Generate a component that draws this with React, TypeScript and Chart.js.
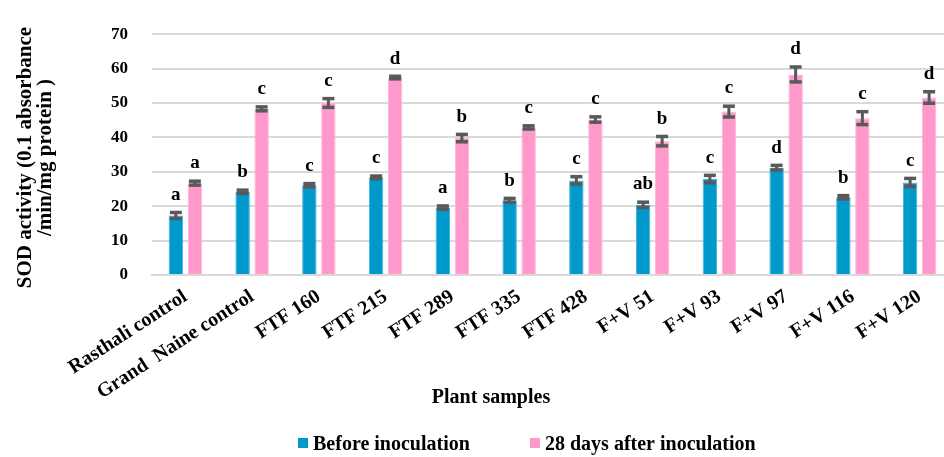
import React, { useEffect, useRef } from "react";
import { Chart, registerables } from "chart.js";

Chart.register(...registerables);

const categories = [
  "Rasthali control",
  "Grand  Naine control",
  "FTF 160",
  "FTF 215",
  "FTF 289",
  "FTF 335",
  "FTF 428",
  "F+V 51",
  "F+V 93",
  "F+V 97",
  "F+V 116",
  "F+V 120",
];

const seriesNames = ["Before inoculation", "28 days after inoculation"];

const beforeValues = [17.3, 24.2, 26.1, 28.4, 19.6, 21.7, 27.5, 20.4, 27.9, 31.2, 22.6, 26.9];
const beforeErrors = [0.8, 0.4, 0.4, 0.3, 0.4, 0.5, 1.0, 0.7, 1.0, 0.6, 0.4, 1.1];
const beforeLetters = ["a", "b", "c", "c", "a", "b", "c", "ab", "c", "d", "b", "c"];

const afterValues = [26.7, 48.3, 50.0, 57.4, 39.8, 42.9, 45.2, 38.9, 47.5, 58.3, 45.6, 51.6];
const afterErrors = [0.5, 0.5, 1.2, 0.3, 1.0, 0.4, 0.7, 1.3, 1.5, 2.1, 1.8, 1.6];
const afterLetters = ["a", "c", "c", "d", "b", "c", "c", "b", "c", "d", "c", "d"];

const yTicks = [0, 10, 20, 30, 40, 50, 60, 70];

const yTitleLines = ["SOD activity (0.1 absorbance", "/min/mg protein )"];
const xTitle = "Plant samples";

const BLUE = "#0099cc";
const PINK = "#ff99cc";
const FONT = "'Liberation Serif', 'Times New Roman', serif";

const errorBarPlugin = {
  id: "errorBars",
  afterDatasetsDraw(chart: any) {
    const ctx = chart.ctx;
    const yScale = chart.scales.y;
    const errs = [beforeErrors, afterErrors];
    const letters = [beforeLetters, afterLetters];
    chart.data.datasets.forEach((ds: any, di: number) => {
      const meta = chart.getDatasetMeta(di);
      meta.data.forEach((bar: any, i: number) => {
        const v = ds.data[i];
        const e = errs[di][i];
        const x = bar.x;
        const yTop = yScale.getPixelForValue(v + e);
        const yBot = yScale.getPixelForValue(v - e);
        ctx.save();
        ctx.strokeStyle = "#595959";
        ctx.fillStyle = "#595959";
        ctx.lineWidth = 3;
        ctx.beginPath();
        ctx.moveTo(x, yTop);
        ctx.lineTo(x, yBot);
        ctx.stroke();
        ctx.fillRect(x - 6, yTop - 2, 12, 3.5);
        ctx.fillRect(x - 6, yBot - 1.5, 12, 3.5);
        ctx.fillStyle = "#000";
        ctx.font = `bold 19px ${FONT}`;
        ctx.textAlign = "center";
        ctx.textBaseline = "alphabetic";
        ctx.fillText(letters[di][i], x, yTop - 13);
        ctx.restore();
      });
    });
  },
};

const decorPlugin = {
  id: "decor",
  afterDraw(chart: any) {
    const ctx = chart.ctx;
    ctx.save();
    ctx.fillStyle = "#000";
    // Y title
    ctx.font = `bold 21px ${FONT}`;
    ctx.textAlign = "center";
    ctx.textBaseline = "middle";
    const xs = [25.5, 45.5];
    yTitleLines.forEach((line, i) => {
      ctx.save();
      ctx.translate(xs[i], 157.5);
      ctx.rotate(-Math.PI / 2);
      ctx.fillText(line, 0, 0);
      ctx.restore();
    });
    // X title
    ctx.font = `bold 20px ${FONT}`;
    ctx.textBaseline = "alphabetic";
    ctx.fillText(xTitle, 491, 403);
    // Legend
    const colors = [BLUE, PINK];
    const boxX = [298, 530];
    ctx.textAlign = "left";
    ctx.font = `bold 20px ${FONT}`;
    seriesNames.forEach((name, i) => {
      ctx.fillStyle = colors[i];
      ctx.fillRect(boxX[i], 438, 10, 10);
      ctx.fillStyle = "#000";
      ctx.fillText(name, boxX[i] + 15, 450);
    });
    ctx.restore();
  },
};

export default function App() {
  const canvasRef = useRef<HTMLCanvasElement | null>(null);

  useEffect(() => {
    document.body.style.margin = "0";
    document.body.style.overflow = "hidden";
    document.documentElement.style.overflow = "hidden";
    const canvas = canvasRef.current;
    if (!canvas) return;
    const chart = new Chart(canvas, {
      type: "bar",
      data: {
        labels: categories,
        datasets: [
          {
            label: seriesNames[0],
            data: beforeValues,
            backgroundColor: BLUE,
            borderColor: "#40b3e0",
            borderWidth: 1,
            categoryPercentage: 0.57,
            barPercentage: 0.76,
          },
          {
            label: seriesNames[1],
            data: afterValues,
            backgroundColor: PINK,
            borderColor: "#ffb3d9",
            borderWidth: 1,
            categoryPercentage: 0.57,
            barPercentage: 0.76,
          },
        ],
      },
      options: {
        responsive: false,
        animation: false,
        layout: { padding: { top: 18, left: 0, right: 0, bottom: 0 } },
        plugins: {
          legend: { display: false },
          title: { display: false },
          tooltip: { enabled: false },
        },
        scales: {
          x: {
            grid: { display: false, drawTicks: false },
            border: { display: true, color: "#d9d9d9", width: 2 },
            ticks: {
              autoSkip: false,
              minRotation: 33,
              maxRotation: 33,
              padding: 10,
              color: "#000",
              font: { family: FONT, size: 20, weight: "bold" },
            },
            afterFit(scale: any) {
              scale.height = 182;
            },
          },
          y: {
            min: 0,
            max: 70,
            afterBuildTicks(scale: any) {
              scale.ticks = yTicks.map((v) => ({ value: v }));
            },
            grid: { color: "#d9d9d9", lineWidth: 2, drawTicks: false },
            border: { display: false },
            ticks: {
              padding: 24,
              color: "#000",
              font: { family: FONT, size: 17, weight: "bold" },
            },
            afterFit(scale: any) {
              scale.width = 152;
            },
          },
        },
      },
      plugins: [errorBarPlugin, decorPlugin],
    });
    return () => chart.destroy();
  }, []);

  return (
    <div style={{ width: 953, height: 457, overflow: "hidden" }}>
      <canvas ref={canvasRef} width={953} height={457} style={{ display: "block" }} />
    </div>
  );
}
